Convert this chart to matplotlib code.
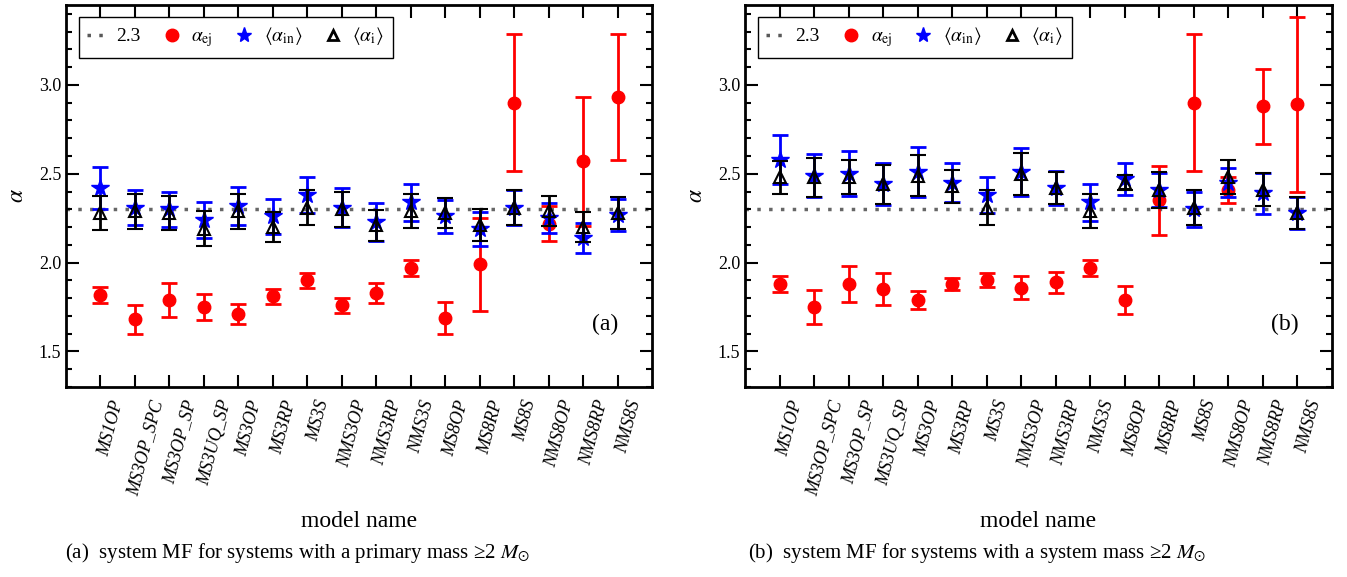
import matplotlib
matplotlib.use('Agg')
import matplotlib.pyplot as plt
import matplotlib.transforms as mtransforms
from matplotlib.lines import Line2D
from matplotlib.ticker import MultipleLocator

plt.rcParams['font.family'] = ['Liberation Serif', 'DejaVu Serif']
plt.rcParams['mathtext.fontset'] = 'stix'

models = ['MS1OP', 'MS3OP_SPC', 'MS3OP_SP', 'MS3UQ_SP', 'MS3OP', 'MS3RP', 'MS3S',
          'NMS3OP', 'NMS3RP', 'NMS3S', 'MS8OP', 'MS8RP', 'MS8S', 'NMS8OP',
          'NMS8RP', 'NMS8S']

# panel (a): primary mass >= 2 Msun
ej_a = [1.82, 1.68, 1.79, 1.75, 1.71, 1.81, 1.90, 1.76, 1.83, 1.97, 1.69, 1.99,
        2.90, 2.22, 2.57, 2.93]
ej_a_err = [0.045, 0.08, 0.095, 0.075, 0.057, 0.043, 0.042, 0.043, 0.058, 0.043,
            0.089, 0.26, 0.385, 0.10, 0.365, 0.355]
in_a = [2.42, 2.31, 2.30, 2.24, 2.32, 2.26, 2.38, 2.31, 2.23, 2.34, 2.26, 2.19,
        2.31, 2.25, 2.14, 2.27]
in_a_err = [0.12, 0.098, 0.098, 0.103, 0.107, 0.10, 0.10, 0.112, 0.107, 0.103,
            0.092, 0.095, 0.10, 0.085, 0.084, 0.09]
i_a = [2.28, 2.29, 2.28, 2.19, 2.29, 2.20, 2.31, 2.30, 2.21, 2.29, 2.28, 2.21,
       2.31, 2.29, 2.20, 2.28]
i_a_err = [0.094, 0.098, 0.095, 0.098, 0.098, 0.085, 0.097, 0.098, 0.089, 0.097,
           0.085, 0.09, 0.10, 0.083, 0.085, 0.092]

# panel (b): system mass >= 2 Msun
ej_b = [1.88, 1.75, 1.88, 1.85, 1.79, 1.88, 1.90, 1.86, 1.89, 1.97, 1.79, 2.35,
        2.90, 2.41, 2.88, 2.89]
ej_b_err = [0.044, 0.098, 0.10, 0.089, 0.052, 0.035, 0.039, 0.062, 0.059, 0.044,
            0.077, 0.195, 0.385, 0.074, 0.211, 0.49]
in_b = [2.58, 2.49, 2.50, 2.44, 2.51, 2.45, 2.38, 2.51, 2.42, 2.34, 2.47, 2.41,
        2.30, 2.45, 2.39, 2.28]
in_b_err = [0.137, 0.12, 0.126, 0.118, 0.14, 0.11, 0.10, 0.135, 0.095, 0.103,
            0.088, 0.095, 0.10, 0.08, 0.115, 0.09]
i_b = [2.48, 2.48, 2.48, 2.44, 2.49, 2.43, 2.31, 2.50, 2.42, 2.29, 2.45, 2.41,
       2.31, 2.48, 2.41, 2.28]
i_b_err = [0.094, 0.108, 0.096, 0.108, 0.117, 0.093, 0.097, 0.119, 0.088, 0.095,
           0.042, 0.10, 0.097, 0.095, 0.092, 0.09]

ref_alpha = 2.3

fig = plt.figure(figsize=(13.47, 5.77), dpi=100)
ax_a = fig.add_axes([66 / 1347, 1 - 387 / 577, 586 / 1347, 382 / 577])
ax_b = fig.add_axes([745 / 1347, 1 - 387 / 577, 587 / 1347, 382 / 577])

x = list(range(len(models)))
dots = (0, (1, 2.4))


def panel(ax, ej, ej_err, a_in, in_err, a_i, i_err, tag):
    ax.axhline(ref_alpha, color='0.4', ls=dots, lw=2.5, zorder=1)
    eb = dict(ls='none', elinewidth=2, capsize=6, capthick=2)
    ax.errorbar(x, ej, yerr=ej_err, color='r', marker='o', ms=9, mec='r',
                zorder=2, **eb)
    ax.errorbar(x, a_in, yerr=in_err, color='b', marker='*', ms=13, mec='b',
                zorder=3, **eb)
    ax.errorbar(x, a_i, yerr=i_err, color='k', marker='^', ms=9, mfc='none',
                mec='k', mew=1.5, zorder=4, **eb)
    ax.set_xlim(-1, 16)
    ax.set_ylim(1.3, 3.45)
    ax.yaxis.set_major_locator(MultipleLocator(0.5))
    ax.yaxis.set_minor_locator(MultipleLocator(0.1))
    ax.set_xticks(x)
    ax.tick_params(which='both', direction='in', top=True, right=True,
                   width=1.5)
    ax.tick_params(which='major', length=9, labelsize=13)
    ax.tick_params(axis='x', labelsize=13, pad=8)
    ax.tick_params(which='minor', length=4.5)
    ax.set_xticklabels(models, rotation=75, ha='center', fontstyle='italic',
                       fontsize=13)
    # nudge the rotated names a bit to the right, like the original
    shift = mtransforms.ScaledTranslation(11 / 100, 0, fig.dpi_scale_trans)
    for tick in ax.xaxis.get_major_ticks():
        tick.label1.set_transform(tick.label1.get_transform() + shift)
    for s in ax.spines.values():
        s.set_linewidth(2)
    ax.set_ylabel(r'$\alpha$', fontsize=17, labelpad=8)
    ax.set_xlabel('model name', fontsize=17, labelpad=10)
    ax.text(0.92, 0.165, tag, transform=ax.transAxes, fontsize=17,
            ha='center', va='center')
    handles = [
        Line2D([], [], color='0.35', ls=dots, lw=2.5),
        Line2D([], [], color='r', marker='o', ls='none', ms=9),
        Line2D([], [], color='b', marker='*', ls='none', ms=11),
        Line2D([], [], color='k', marker='^', ls='none', ms=7, mfc='none',
               mew=2),
    ]
    labels = ['2.3', r'$\alpha_{\rm ej}$', r'$\langle\alpha_{\rm in}\rangle$',
              r'$\langle\alpha_{\rm i}\rangle$']
    leg = ax.legend(handles, labels, loc='upper left', ncol=4, fontsize=14,
                    handlelength=1.0, handletextpad=0.5, columnspacing=1.1,
                    fancybox=False, framealpha=1, borderpad=0.45,
                    bbox_to_anchor=(0.005, 0.995))
    leg.get_frame().set_edgecolor('k')
    leg.get_frame().set_linewidth(1)


panel(ax_a, ej_a, ej_a_err, in_a, in_a_err, i_a, i_a_err, '(a)')
panel(ax_b, ej_b, ej_b_err, in_b, in_b_err, i_b, i_b_err, '(b)')

fig.text(65 / 1347, 1 - 553 / 577,
         '(a)  system MF for systems with a primary mass ≥2 $M_{\\odot}$',
         fontsize=15, va='center', ha='left')
fig.text(748 / 1347, 1 - 553 / 577,
         '(b)  system MF for systems with a system mass ≥2 $M_{\\odot}$',
         fontsize=15, va='center', ha='left')

fig.savefig('out.png', dpi=100)
